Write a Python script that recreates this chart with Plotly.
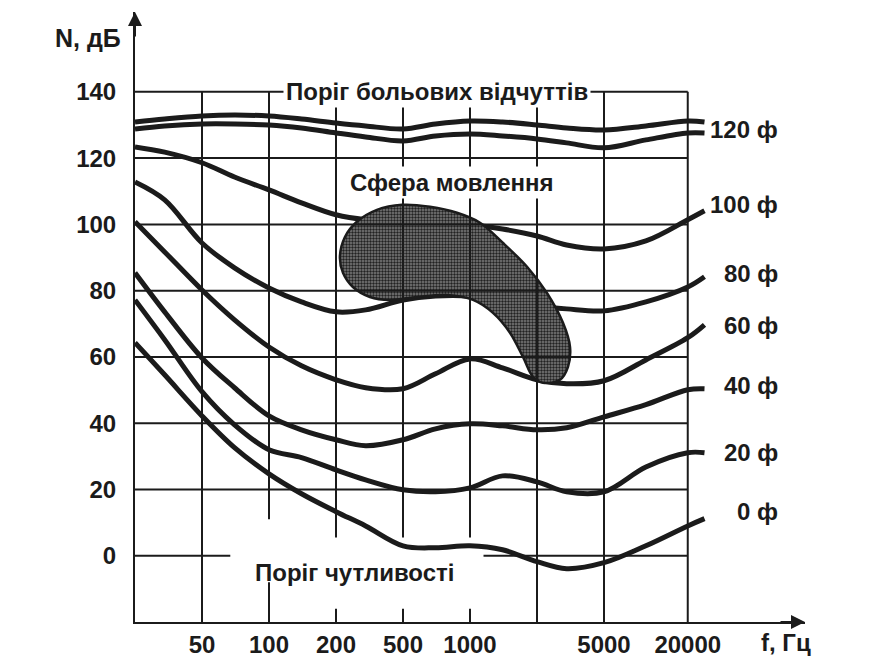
import numpy as np
import plotly.graph_objects as go

# ---------------- custom frequency scale of the chart ----------------
SCALE_F = [20, 50, 100, 200, 500, 1000, 2000, 5000, 20000, 25000]
SCALE_POS = [0, 1, 2, 3, 4, 5, 6, 7, 8.25, 8.5]


def fpos(f):
    return np.interp(np.log10(np.asarray(f, float)), np.log10(SCALE_F), SCALE_POS)


# ---------------- data (Hz, dB) ----------------
FREQ = [20, 30, 50, 70, 100, 140, 200, 300, 500, 700, 1000, 1400, 2000, 3000,
        5000, 10000, 20000, 25000]

PHON_120_UPPER = [130.9, 131.8, 132.7, 133.0, 132.7, 131.8, 130.6, 129.7, 128.8,
                  130.3, 131.2, 130.9, 130.0, 129.1, 128.5, 129.7, 131.2, 130.9]
PHON_120_LOWER = [128.8, 129.7, 130.3, 130.3, 130.0, 129.1, 127.6, 126.4, 125.2,
                  126.7, 127.3, 126.7, 125.8, 124.6, 123.1, 125.5, 127.6, 127.6]
PHON_100 = [123.4, 121.8, 118.6, 114.3, 110.4, 106.5, 102.9, 101.4, 100.8,
            100.5, 99.9, 98.6, 96.5, 93.8, 92.6, 95.0, 101.4, 104.1]
PHON_80 = [112.8, 107.4, 94.4, 86.9, 80.8, 76.6, 73.6, 74.2, 77.2,
           78.4, 78.4, 77.2, 75.4, 74.5, 73.9, 76.6, 81.1, 84.2]
PHON_60 = [100.8, 91.7, 80.2, 71.2, 63.0, 57.3, 53.1, 50.7, 50.4,
           54.9, 59.4, 56.7, 53.1, 51.9, 52.8, 59.1, 65.8, 69.7]
PHON_40 = [85.4, 73.6, 59.7, 50.7, 42.2, 38.0, 35.0, 33.2, 35.0,
           38.3, 39.8, 39.2, 38.0, 38.6, 41.9, 45.6, 50.1, 50.4]
PHON_20 = [77.2, 65.2, 49.5, 39.5, 32.0, 29.6, 25.9, 22.9, 19.9,
           19.3, 20.5, 24.1, 22.3, 19.3, 19.3, 26.8, 31.1, 31.1]
PHON_0 = [64.3, 54.6, 42.2, 32.6, 24.7, 18.7, 13.3, 9.0, 3.0,
          2.4, 3.0, 1.8, -1.8, -3.9, -2.1, 3.0, 9.0, 11.2]

CURVES = [PHON_120_UPPER, PHON_120_LOWER, PHON_100, PHON_80, PHON_60,
          PHON_40, PHON_20, PHON_0]

CURVE_LABELS = ["120 ф", "100 ф", "80 ф", "60 ф", "40 ф", "20 ф", "0 ф"]
CURVE_LABEL_DB = [128.5, 105.9, 85.1, 69.4, 51.3, 31.1, 13.3]

# speech area outline
SPEECH_F = [211, 226, 266, 350, 493, 661, 874, 1109, 1407, 1804, 2292, 2853,
            3142, 3056, 2738, 2172, 1919, 1730, 1512, 1268, 1032, 788, 578,
            418, 318, 252, 220, 211]
SPEECH_DB = [90.2, 96.2, 100.8, 104.4, 105.9, 105.3, 103.5, 100.5, 94.4, 87.2,
             79.3, 70.3, 63.0, 57.0, 53.1, 52.2, 54.0, 60.0, 67.3, 73.3, 77.2,
             78.7, 78.1, 77.2, 78.1, 81.1, 85.4, 90.2]

TICK_F = [50, 100, 200, 500, 1000, 2000, 5000, 20000]
TICK_TEXT = ["50", "100", "200", "500", "1000", "", "5000", "20000"]
Y_TICKS = [0, 20, 40, 60, 80, 100, 120, 140]

INK = "#1b1b1b"
FONT = "Liberation Sans, Arial, Helvetica, sans-serif"

fig = go.Figure()

xf = fpos(FREQ)
for db in CURVES:
    fig.add_trace(go.Scatter(
        x=xf, y=db, mode="lines",
        line=dict(color=INK, width=5, shape="spline", smoothing=1.0),
        hoverinfo="skip", cliponaxis=False))

fig.add_trace(go.Scatter(
    x=fpos(SPEECH_F), y=SPEECH_DB, mode="lines", fill="toself",
    line=dict(color=INK, width=2.5, shape="spline", smoothing=1.0),
    fillcolor="#5e5e5e",
    fillpattern=dict(shape=".", bgcolor="#7c7c7c", fgcolor="#222222",
                     size=3, solidity=0.5),
    hoverinfo="skip"))

# ---------------- grid lines (drawn above, as in the print) ----------------
shapes = []
gl = dict(color=INK, width=2)
x_end = float(fpos(20000))
for f in TICK_F:
    xp = float(fpos(f))
    if f == 100:
        segs = [(-20, -8), (11, 140)]
    elif f in (200, 500, 1000):
        segs = [(-20, -16), (5.5, 140)]
    else:
        segs = [(-20, 140)]
    for y0, y1 in segs:
        shapes.append(dict(type="line", xref="x", yref="y", x0=xp, x1=xp,
                           y0=y0, y1=y1, line=gl, layer="above"))
for v in Y_TICKS:
    if v == 0:
        segs = [(0, float(fpos(67))), (float(fpos(1150)), x_end)]
    else:
        segs = [(0, x_end)]
    for x0, x1 in segs:
        shapes.append(dict(type="line", xref="x", yref="y", x0=x0, x1=x1,
                           y0=v, y1=v, line=gl, layer="above"))

annotations = []
big = dict(family=FONT, size=24, color=INK, weight="bold")
for lab, yv in zip(CURVE_LABELS, CURVE_LABEL_DB):
    annotations.append(dict(text=lab, x=9.63, y=yv, xref="x", yref="y",
                            xanchor="right", yanchor="middle", showarrow=False,
                            font=big))
annotations += [
    dict(text="Поріг больових відчуттів", x=4.51, y=140, xref="x", yref="y",
         xanchor="center", yanchor="middle", showarrow=False, font=big,
         bgcolor="white", borderpad=2),
    dict(text="Сфера мовлення", x=4.73, y=112.5, xref="x", yref="y",
         xanchor="center", yanchor="middle", showarrow=False, font=big,
         bgcolor="white", borderpad=2),
    dict(text="Поріг чутливості", x=3.28, y=-5.1, xref="x", yref="y",
         xanchor="center", yanchor="middle", showarrow=False, font=big),
    dict(text="N, дБ", x=0, y=156.3, xref="paper", yref="y", xanchor="right",
         yanchor="middle", xshift=-12, showarrow=False,
         font=dict(family=FONT, size=25, color=INK, weight="bold")),
    dict(text="f, Гц", x=9.72, y=-20, xref="x", yref="y", xanchor="center",
         yanchor="top", yshift=-5, showarrow=False, font=big),
    # axis arrows
    dict(text="", x=10, y=-20, xref="x", yref="y", ax=-26, ay=0,
         showarrow=True, arrowhead=2, arrowsize=1.4, arrowwidth=2,
         arrowcolor=INK),
    dict(text="", x=0, y=164.1, xref="x", yref="y", ax=0, ay=26,
         showarrow=True, arrowhead=2, arrowsize=1.4, arrowwidth=2,
         arrowcolor=INK),
]

# the page body adds an 8 px offset; margins compensate for it
fig.update_layout(
    template="none",
    width=880, height=657,
    margin=dict(l=127, r=83, t=4, b=43),
    paper_bgcolor="white", plot_bgcolor="white",
    showlegend=False,
    shapes=shapes, annotations=annotations,
    xaxis=dict(range=[0, 10], showgrid=False, zeroline=False, showline=True,
               linecolor=INK, linewidth=2, ticks="", automargin=False,
               tickvals=[float(v) for v in fpos(TICK_F)], ticktext=TICK_TEXT,
               tickfont=big, ticklabelstandoff=0),
    yaxis=dict(range=[-20, 164.1], showgrid=False, zeroline=False,
               showline=True, linecolor=INK, linewidth=2, ticks="",
               automargin=False,
               tickvals=Y_TICKS, ticktext=[str(v) for v in Y_TICKS],
               tickfont=big, ticklabelstandoff=12),
)

fig.write_html("out.html")
